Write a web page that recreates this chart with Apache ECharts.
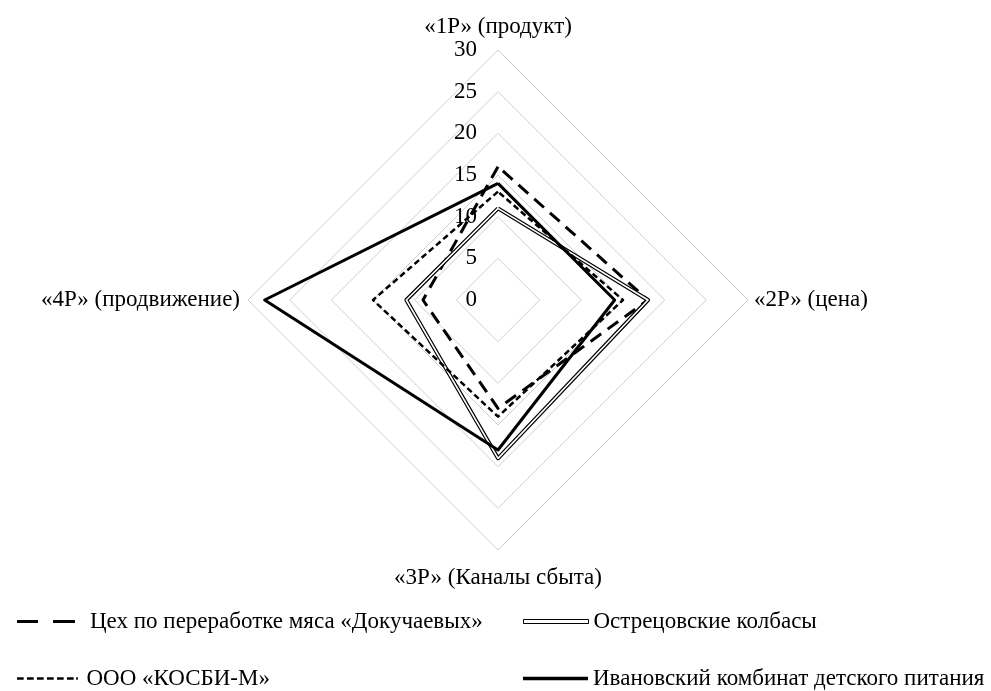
<!DOCTYPE html>
<html>
<head>
<meta charset="utf-8">
<script src="https://cdn.jsdelivr.net/npm/echarts@6/dist/echarts.min.js"></script>
<style>html,body{margin:0;padding:0;background:#fff}#c{width:991px;height:691px}</style>
</head>
<body>
<div id="c"></div>
<script>
// Categories in clockwise order starting at top
const categories = ['«1Р» (продукт)', '«2Р» (цена)', '«3Р» (Каналы сбыта)', '«4Р» (продвижение)'];
const seriesNames = ['Цех по переработке мяса «Докучаевых»', 'Острецовские колбасы', 'ООО «КОСБИ-М»', 'Ивановский комбинат детского питания'];
const dokuchaev = [16, 18, 13, 9];
const ostretsov = [11, 18, 19, 11];
const kosbi = [13, 15, 14, 15];
const ivanovo = [14, 14, 18, 28];
const axisMax = 30;
const axisStep = 5;

// ECharts lays indicators counter-clockwise; reorder to get clockwise layout
const order = [0, 3, 2, 1];
const re = arr => order.map(i => arr[i]);
const styleKeys = ['top', 'left', 'bottom', 'right'];

const FONT = '"Liberation Serif", "Times New Roman", serif';
const indicator = order.map((i, k) => {
  const o = { name: categories[i], max: axisMax, min: 0 };
  if (k === 0) o.axisLabel = { show: true };
  return o;
});

const chart = echarts.init(document.getElementById('c'), null, { renderer: 'canvas' });
const LFS = 23;
const legendBase = {
  orient: 'horizontal',
  itemHeight: 4,
  itemWidth: 58,
  textStyle: { fontFamily: FONT, fontSize: LFS, color: '#000', padding: [0, 0, 0, 8] },
  selectedMode: false
};
const nameRich = {
  top: { fontFamily: FONT, fontSize: 23, color: '#000', padding: [0, 0, 0, 0] },
  bottom: { fontFamily: FONT, fontSize: 23, color: '#000', padding: [10, 0, 0, 0] },
  left: { fontFamily: FONT, fontSize: 23, color: '#000', padding: [0, 2, 0, 0] },
  right: { fontFamily: FONT, fontSize: 23, color: '#000', padding: [0, 0, 0, 0] }
};
chart.setOption({
  animation: false,
  backgroundColor: '#fff',
  radar: {
    center: [498, 300],
    radius: 250,
    startAngle: 90,
    splitNumber: axisMax / axisStep,
    shape: 'polygon',
    indicator: indicator,
    nameGap: 6,
    axisName: {
      color: '#000', fontFamily: FONT, fontSize: 23,
      formatter: function (name) {
        const idx = categories.indexOf(name);
        const k = order.indexOf(idx);
        return '{' + styleKeys[k] + '|' + name + '}';
      },
      rich: nameRich
    },
    axisLine: { show: false },
    axisTick: { show: false },
    splitArea: { show: false },
    splitLine: { lineStyle: { color: '#cfcfcf', width: 1 } },
    axisLabel: { show: false, color: '#000', fontFamily: FONT, fontSize: 23, margin: 21 }
  },
  legend: [
    Object.assign({}, legendBase, { left: 12, top: 605, textStyle: Object.assign({}, legendBase.textStyle, { padding: [0, 0, 0, 10] }),
      data: [{ name: seriesNames[0], icon: 'path://M0,0h21v3h-21z M36,0h22v3h-22z' }] }),
    Object.assign({}, legendBase, { left: 518, top: 605, itemWidth: 65, itemHeight: 4, textStyle: Object.assign({}, legendBase.textStyle, { padding: [0, 0, 0, 0] }),
      itemStyle: { color: '#fff', borderColor: '#000', borderWidth: 1 }, data: [{ name: seriesNames[1], icon: 'rect' }] }),
    Object.assign({}, legendBase, { left: 12, top: 662, itemWidth: 68, itemHeight: 2.5, textStyle: Object.assign({}, legendBase.textStyle, { padding: [0, 0, 0, 0] }),
      data: [{ name: seriesNames[2], icon: 'path://M0,0h8v3h-8z M12,0h8v3h-8z M24,0h8v3h-8z M36,0h8v3h-8z M48,0h8v3h-8z M60,0h8v3h-8z M71,0h2v3h-2z' }] }),
    Object.assign({}, legendBase, { left: 518, top: 662, itemWidth: 65, itemHeight: 3.5, textStyle: Object.assign({}, legendBase.textStyle, { padding: [0, 0, 0, 0] }),
      data: [{ name: seriesNames[3], icon: 'rect' }] })
  ],
  series: [{
    type: 'radar',
    symbol: 'none',
    silent: true,
    data: [
      { name: seriesNames[0], value: re(dokuchaev), itemStyle: { color: '#000' }, lineStyle: { color: '#000', width: 3, type: [13, 8] } },
      { name: seriesNames[1], value: re(ostretsov), itemStyle: { color: '#000' }, lineStyle: { color: '#000', width: 4, type: 'solid' } },
      { name: 'inner', value: re(ostretsov), itemStyle: { color: '#fff' }, lineStyle: { color: '#fff', width: 1.6, type: 'solid' } },
      { name: seriesNames[2], value: re(kosbi), itemStyle: { color: '#000' }, lineStyle: { color: '#000', width: 2.5, type: [6, 3.5] } },
      { name: seriesNames[3], value: re(ivanovo), itemStyle: { color: '#000' }, lineStyle: { color: '#000', width: 3, type: 'solid' } }
    ]
  }]
});
</script>
</body>
</html>
